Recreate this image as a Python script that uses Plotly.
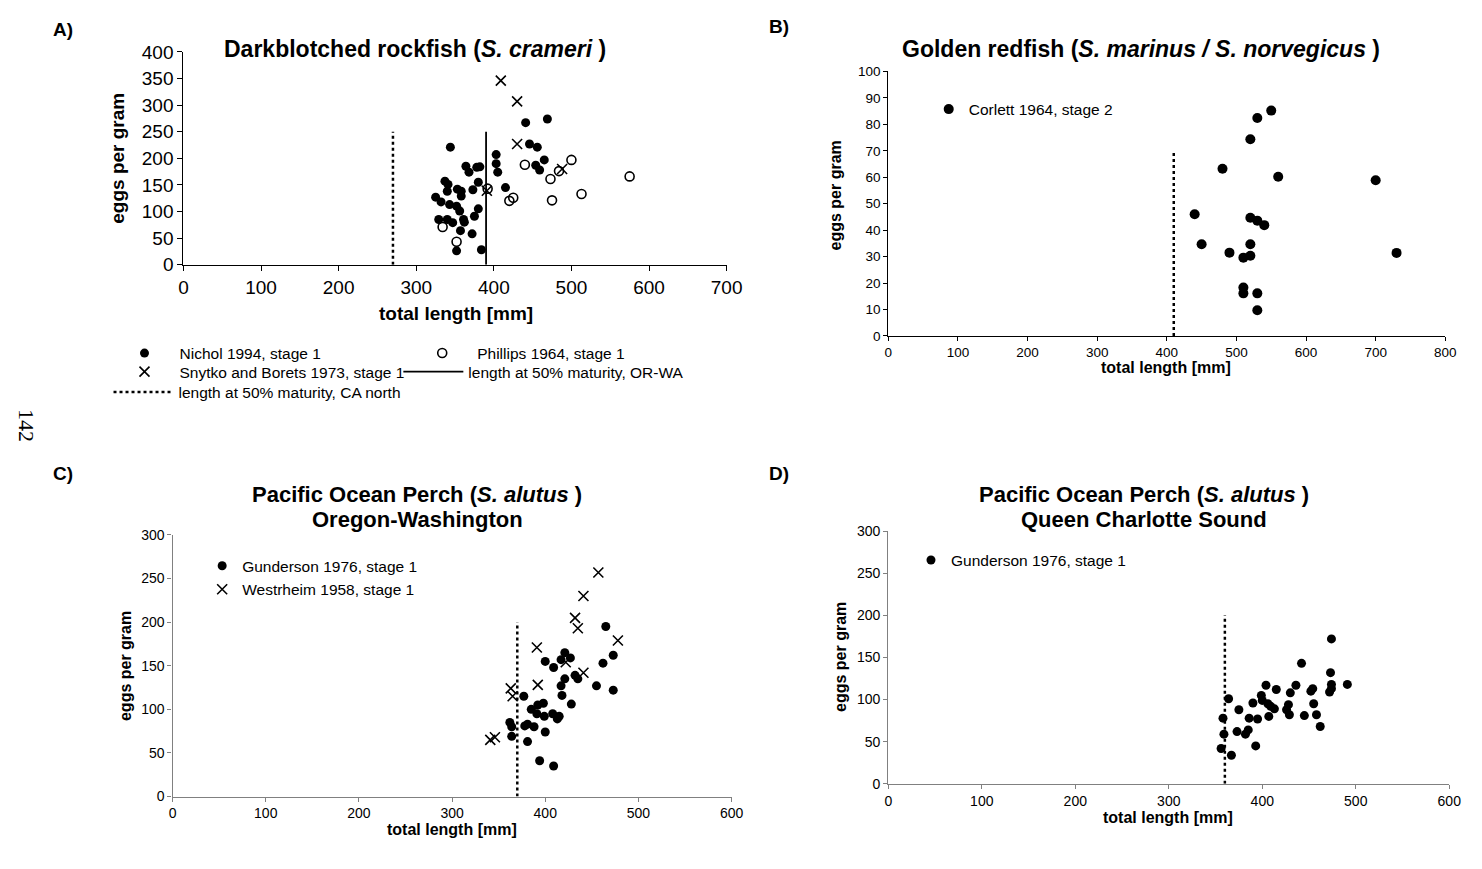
import plotly.graph_objects as go

W, H = 1482, 869
FONT = "Liberation Sans, Arial, sans-serif"

# ---------------- A) Darkblotched rockfish ----------------
nichol_len = [344, 441, 469, 446, 456, 465, 403, 403, 405, 454, 459, 364, 368, 378,
              382, 337, 341, 340, 353, 358, 358, 373, 380, 415, 325, 332, 343, 352,
              356, 380, 375, 329, 340, 347, 361, 362, 357, 372, 352, 384]
nichol_epg = [221, 267, 274, 227, 221, 197, 207, 190, 174, 187, 178, 185, 174, 183,
              184, 157, 151, 138, 142, 138, 129, 141, 155, 145, 127, 118, 113, 110,
              101, 105, 91, 85, 85, 79, 85, 80, 64, 58, 26, 28]
phillips_len = [500, 484, 473, 440, 513, 475, 420, 425, 392, 334, 352, 575]
phillips_epg = [197, 176, 161, 188, 133, 121, 120, 126, 143, 71, 43, 166]
snytko_len = [409, 430, 430, 391, 488]
snytko_epg = [346, 307, 227, 139, 180]
a_l50_orwa = 390
a_l50_canorth = 270
a_l50_top = 250

# ---------------- B) Golden redfish ----------------
corlett_len = [550, 530, 520, 480, 560, 700, 440, 520, 530, 540, 450, 520, 490, 510,
               520, 730, 510, 510, 530, 530]
corlett_epg = [85.2, 82.4, 74.4, 63.2, 60.2, 58.9, 46.0, 44.7, 43.6, 41.9, 34.7, 34.7,
               31.5, 29.6, 30.3, 31.4, 18.3, 16.1, 16.1, 9.7]
b_l50 = 410
b_l50_top = 70

# ---------------- C) Pacific Ocean Perch, Oregon-Washington ----------------
gund_c_len = [465, 473, 462, 473, 455, 421, 427, 417, 400, 409, 432, 435, 421, 417,
              418, 428, 377, 385, 392, 398, 391, 399, 408, 415, 413, 362, 364, 378,
              381, 388, 400, 364, 381, 394, 409]
gund_c_epg = [195, 162, 153, 122, 127, 165, 159, 157, 155, 148, 139, 135, 135, 127,
              116, 106, 115, 100, 105, 107, 95, 92, 95, 92, 89, 85, 80, 81,
              83, 80, 74, 69, 63, 41, 35]
westr_len = [457, 441, 432, 435, 478, 391, 441, 392, 363, 365, 341, 346, 422]
westr_epg = [257, 230, 205, 193, 179, 171, 142, 128, 124, 115, 65, 68, 154]
c_l50 = 370
c_l50_top = 200

# ---------------- D) Pacific Ocean Perch, Queen Charlotte Sound ----------------
gund_d_len = [474, 442, 473, 491, 474, 474, 472, 436, 404, 415, 430, 454, 452, 399,
              400, 406, 409, 413, 364, 390, 428, 426, 375, 455, 407, 429, 445, 458,
              386, 395, 358, 462, 373, 385, 382, 359, 393, 356, 367]
gund_d_epg = [172, 143, 132, 118, 118, 113, 109, 117, 117, 112, 108, 113, 110, 105,
              99, 95, 92, 89, 101, 96, 94, 88, 88, 95, 80, 82, 81, 82,
              78, 77, 78, 68, 62, 64, 59, 59, 45, 42, 34]
d_l50 = 360
d_l50_top = 200


def px(x):
    return x / W


def py(y):
    return 1 - y / H


fig = go.Figure()

DOT = dict(symbol="circle", size=9, color="black")
XM = dict(symbol="x-thin-open", size=10, color="black", line=dict(width=1.6, color="black"))
OPEN = dict(symbol="circle-open", size=9, color="black", line=dict(width=1.6, color="black"))
DASH = dict(color="black", width=2.5, dash="3px,3px")


def add(x, y, name, legend, xa, ya, marker=None, line=None):
    mode = "markers" if marker else "lines"
    fig.add_trace(go.Scatter(x=x, y=y, mode=mode, marker=marker, line=line, name=name,
                             xaxis=xa, yaxis=ya, legend=legend,
                             showlegend=legend is not None))


# panel A
add(nichol_len, nichol_epg, "Nichol 1994, stage 1", "legend", "x", "y", marker=DOT)
add(phillips_len, phillips_epg, "Phillips 1964, stage 1", "legend5", "x", "y", marker=OPEN)
add(snytko_len, snytko_epg, "Snytko and Borets 1973, stage 1", "legend6", "x", "y", marker=XM)
add([a_l50_orwa, a_l50_orwa], [0, a_l50_top], "length at 50% maturity, OR-WA", "legend7",
    "x", "y", line=dict(color="black", width=1.8))
add([a_l50_canorth, a_l50_canorth], [0, a_l50_top], "length at 50% maturity, CA north",
    "legend8", "x", "y", line=DASH)

# panel B
add(corlett_len, corlett_epg, "Corlett 1964, stage 2", "legend2", "x2", "y2",
    marker=dict(symbol="circle", size=10, color="black"))
add([b_l50, b_l50], [0, b_l50_top], "L50", None, "x2", "y2", line=DASH)

# panel C
add(gund_c_len, gund_c_epg, "Gunderson 1976, stage 1", "legend3", "x3", "y3", marker=DOT)
add(westr_len, westr_epg, "Westrheim 1958, stage 1", "legend9", "x3", "y3", marker=XM)
add([c_l50, c_l50], [0, c_l50_top], "L50", None, "x3", "y3", line=DASH)

# panel D
add(gund_d_len, gund_d_epg, "Gunderson 1976, stage 1", "legend4", "x4", "y4", marker=DOT)
add([d_l50, d_l50], [0, d_l50_top], "L50", None, "x4", "y4", line=DASH)


def ax(domain, rng, dtick, size, color, anchor, ticklen=5):
    return dict(domain=domain, range=rng, dtick=dtick, tick0=0, showgrid=False,
                zeroline=False, showline=True, linecolor=color, linewidth=1.3,
                ticks="outside", ticklen=ticklen, tickcolor=color, tickwidth=1,
                anchor=anchor, tickfont=dict(family=FONT, size=size, color="black"))


def leg(x, y, size, itemwidth=30):
    return dict(x=px(x), y=py(y), xanchor="left", yanchor="middle",
                font=dict(family=FONT, size=size, color="black"),
                bgcolor="rgba(0,0,0,0)", itemwidth=itemwidth, itemsizing="trace",
                tracegroupgap=0)


fig.update_layout(
    width=W, height=H, margin=dict(l=0, r=0, t=0, b=0),
    paper_bgcolor="white", plot_bgcolor="white",
    font=dict(family=FONT, color="black"),
    xaxis=ax([px(181), px(732)], [0, 700], 100, 19, "black", "y"),
    yaxis=ax([py(261), py(43)], [0, 400], 50, 19, "black", "x"),
    xaxis2=ax([px(896), px(1461)], [0, 800], 100, 13.5, "black", "y2", 4),
    yaxis2=ax([py(334), py(63)], [0, 100], 10, 13.5, "black", "x2", 4),
    xaxis3=ax([px(170), px(737)], [0, 600], 100, 14, "#808080", "y3", 4),
    yaxis3=ax([py(806), py(538)], [0, 300], 50, 14, "#808080", "x3", 4),
    xaxis4=ax([px(896), px(1465)], [0, 600], 100, 14, "#808080", "y4", 4),
    yaxis4=ax([py(793), py(534)], [0, 300], 50, 14, "#808080", "x4", 4),
    # panel A legend, one entry per box
    legend=leg(106, 352, 15.5, 60),
    legend5=leg(408, 352, 15.5, 60),
    legend6=leg(106, 371, 15.5, 60),
    legend7=leg(399, 371, 15.5, 60),
    legend8=leg(105, 392, 15.5, 60),
    # panels B-D
    legend2=leg(937, 102, 15.5),
    legend3=leg(200, 570, 15.5),
    legend9=leg(200, 594, 15.5),
    legend4=leg(919, 564, 15.5),
)

ann = []


def text(x, y, s, size, bold=False, angle=0, family=FONT):
    if bold:
        s = "<b>" + s + "</b>"
    ann.append(dict(x=px(x), y=py(y), xref="paper", yref="paper", text=s,
                    showarrow=False, textangle=angle, xanchor="center", yanchor="middle",
                    font=dict(family=family, size=size, color="black")))


# panel letters
text(59, 20, "A)", 19, True)
text(785, 17, "B)", 19, True)
text(59, 475, "C)", 19, True)
text(785, 475, "D)", 19, True)

# panel titles
text(416, 40, "Darkblotched rockfish (<i>S. crameri</i> )", 23, True)
text(1152, 40, "Golden redfish (<i>S. marinus / S. norvegicus</i> )", 23, True)
text(418, 496, "Pacific Ocean Perch (<i>S. alutus</i> )", 22, True)
text(418, 522, "Oregon-Washington", 22, True)
text(1155, 496, "Pacific Ocean Perch (<i>S. alutus</i> )", 22, True)
text(1155, 522, "Queen Charlotte Sound", 22, True)

# axis titles
text(457, 311, "total length [mm]", 19, True)
text(114, 152, "eggs per gram", 19, True, angle=-90)
text(1178, 366, "total length [mm]", 16, True)
text(842, 190, "eggs per gram", 16, True, angle=-90)
text(453, 840, "total length [mm]", 16, True)
text(122, 672, "eggs per gram", 16, True, angle=-90)
text(1180, 827, "total length [mm]", 16, True)
text(848, 663, "eggs per gram", 16, True, angle=-90)

# page number
text(22, 426, "142", 22, False, angle=90, family="Liberation Serif, Times New Roman, serif")

fig.update_layout(annotations=ann)
fig.write_html("out.html")
